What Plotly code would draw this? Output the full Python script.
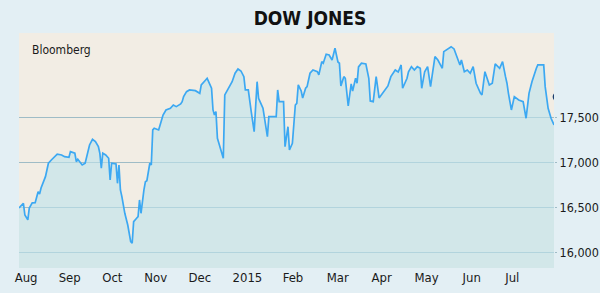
import pandas as pd
import plotly.graph_objects as go

# ---- data ----
start_date = "2014-08-01"
day_offset = [0, 3, 4, 6, 7, 9, 11, 13, 14, 15, 18, 20, 22, 26, 29, 31, 34, 35, 38, 39,
              40, 43, 45, 47, 48, 50, 52, 54, 55, 56, 57, 59, 61, 62, 63, 66, 67, 68, 69, 70,
              72, 74, 76, 77, 78, 80, 81, 82, 83, 85, 86, 87, 89, 90, 91, 92, 95, 96, 98, 100,
              103, 105, 107, 110, 111, 112, 114, 116, 120, 123, 124, 127, 128, 129, 131, 132, 133, 134, 135, 136,
              138, 139, 140, 142, 145, 147, 149, 151, 153, 154, 156, 158, 160, 162, 163, 164, 166, 169, 170, 175,
              176, 177, 180, 181, 183, 184, 186, 188, 189, 190, 192, 193, 195, 196, 198, 200, 203, 204, 206, 207,
              209, 211, 213, 215, 217, 218, 219, 221, 222, 224, 226, 227, 229, 230, 231, 233, 236, 238, 239, 241,
              243, 245, 249, 251, 253, 256, 258, 260, 261, 264, 265, 267, 269, 271, 273, 274, 276, 278, 280, 283,
              285, 288, 289, 292, 294, 296, 298, 300, 301, 303, 305, 307, 309, 311, 314, 315, 317, 320, 322, 323,
              324, 327, 329, 331, 332, 333, 335, 337, 340, 343, 345, 347, 349, 352, 353, 355, 357, 358, 360, 362,
              364]
dow_close = [16500, 16552, 16422, 16367, 16500, 16556, 16559, 16681, 16656, 16722, 16848, 16997, 17033, 17097, 17089, 17070, 17063, 17126, 17108, 17014,
             17041, 16978, 16997, 17126, 17200, 17263, 17237, 17181, 17108, 16941, 17108, 17089, 17052, 16811, 16997, 16989, 16774, 16978, 16700, 16626,
             16441, 16311, 16126, 16108, 16348, 16386, 16403, 16589, 16441, 16700, 16792, 16803, 16997, 16978, 17367, 17386, 17367, 17422, 17533, 17589,
             17608, 17644, 17626, 17656, 17681, 17737, 17792, 17811, 17803, 17774, 17867, 17922, 17941, 17903, 17830, 17589, 17533, 17570, 17274, 17219,
             17089, 17052, 17756, 17811, 17903, 17997, 18044, 18022, 17959, 17811, 17811, 17570, 17348, 17903, 17719, 17681, 17608, 17292, 17514, 17514,
             17811, 17681, 17681, 17181, 17403, 17144, 17219, 17644, 17663, 17867, 17800, 17722, 17830, 17848, 17997, 18033, 18014, 17978, 18125, 18108,
             18208, 18200, 18144, 18274, 18122, 18108, 17856, 17959, 17941, 17633, 17878, 17800, 17941, 17886, 18067, 18108, 18100, 17941, 17689, 17681,
             17959, 17722, 17811, 17856, 17959, 18033, 18011, 18089, 17830, 17941, 18014, 18070, 18033, 18070, 18052, 17830, 18014, 18070, 17848, 18181,
             18144, 18052, 18237, 18267, 18292, 18267, 18181, 18089, 18144, 18014, 18033, 17997, 18070, 17886, 17774, 17756, 18014, 17867, 17886, 17978,
             18100, 18052, 18125, 17959, 17886, 17774, 17589, 17737, 17700, 17681, 17497, 17774, 17903, 18052, 18089, 18089, 18089, 17848, 17608, 17497,
             17422]

marker_day = [366.5]
marker_value = [17735]

tick_day = [4.8, 34.5, 63.5, 93, 123, 155.4, 186.4, 216.9, 246.7, 277.3, 308, 335.6]
tick_text = ["Aug", "Sep", "Oct", "Nov", "Dec", "2015", "Feb", "Mar", "Apr", "May", "Jun", "Jul"]

y_ticks = [16000, 16500, 17000, 17500]
y_text = ["16,000", "16,500", "17,000", "17,500"]

x_range_days = [0, 364]
y_range = [15833, 18444]

t0 = pd.Timestamp(start_date)
to_dates = lambda d: [t0 + pd.Timedelta(days=v) for v in d]

NARROW = "Liberation Sans Narrow, DejaVu Sans Condensed, Arial Narrow, sans-serif"

fig = go.Figure()
fig.add_trace(go.Scatter(
    x=to_dates(day_offset), y=dow_close, mode="lines",
    line=dict(color="#3ca8f2", width=1.7),
    fill="tozeroy", fillcolor="rgba(190,228,236,0.62)",
    hoverinfo="skip", showlegend=False,
))
fig.add_trace(go.Scatter(
    x=to_dates(marker_day), y=marker_value, mode="markers",
    marker=dict(color="#1c3f6e", size=10), cliponaxis=True,
    hoverinfo="skip", showlegend=False,
))

fig.update_layout(
    width=600, height=293,
    margin=dict(l=19, r=46, t=33, b=25, autoexpand=False),
    paper_bgcolor="#e3eff4",
    plot_bgcolor="#f2ede4",
    title=dict(text="<b>DOW JONES</b>", x=310 / 600, xanchor="center", y=1 - 18 / 293, yanchor="middle",
               font=dict(family=NARROW, size=19, color="#111111")),
    xaxis=dict(
        range=to_dates(x_range_days), tickvals=to_dates(tick_day), ticktext=tick_text,
        showgrid=False, zeroline=False, showline=False, ticks="", automargin=False,
        tickfont=dict(family=NARROW, size=13, color="#1a1a1a"),
    ),
    yaxis=dict(
        range=y_range, side="right", tickvals=y_ticks, ticktext=y_text, automargin=False,
        showgrid=True, gridcolor="#9fbcc6", gridwidth=1, zeroline=False, showline=False,
        ticks="outside", ticklen=2, tickcolor="#9fbcc6",
        tickfont=dict(family=NARROW, size=12.5, color="#1a1a1a"),
    ),
    annotations=[dict(text="Bloomberg", xref="paper", yref="paper", x=11 / 535, y=1 - 17 / 235,
                      xanchor="left", yanchor="middle", showarrow=False,
                      font=dict(family=NARROW, size=12, color="#1a1a1a"))],
)

fig.write_html("out.html")
